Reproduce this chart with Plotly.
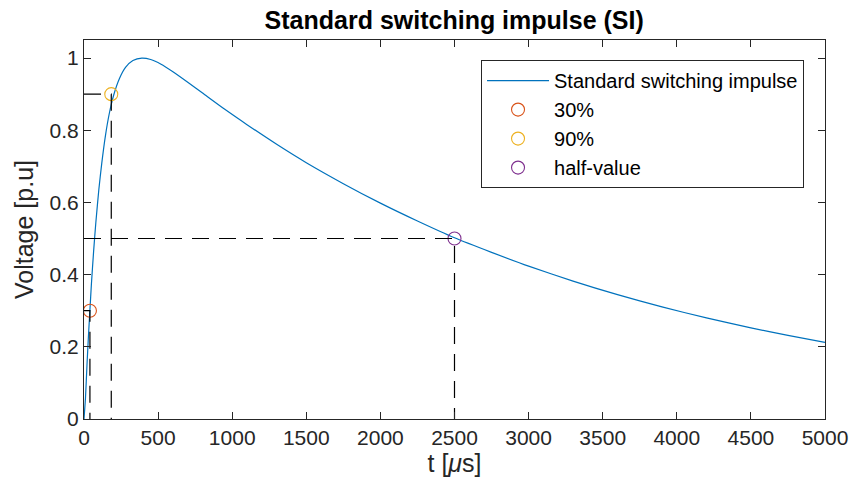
import plotly.graph_objects as go

# Curve samples (t in microseconds, voltage in p.u.)
t_us = [0, 10, 20, 30, 40, 50, 65, 80, 100, 120, 145, 170, 200, 240, 280, 330, 390,
        450, 520, 600, 700, 800, 950, 1100, 1300, 1500, 1750, 2000, 2250, 2500, 2750,
        3000, 3300, 3600, 3900, 4200, 4500, 4750, 5000]
v_pu = [0, 0.058, 0.148, 0.230, 0.302, 0.374, 0.465, 0.545, 0.635, 0.709, 0.786, 0.845,
        0.897, 0.944, 0.974, 0.993, 1.0, 0.996, 0.983, 0.962, 0.933, 0.903, 0.858,
        0.8155, 0.761, 0.710, 0.652, 0.598, 0.5485, 0.502, 0.4617, 0.4235, 0.3819,
        0.3444, 0.3106, 0.280, 0.2525, 0.2316, 0.2125]

# Characteristic points
marker_names = ["30%", "90%", "half-value"]
marker_t = [40, 184, 2500]
marker_v = [0.3, 0.9, 0.5]
marker_colors = ["#D95319", "#EDB120", "#7E2F8E"]

x_ticks = [0, 500, 1000, 1500, 2000, 2500, 3000, 3500, 4000, 4500, 5000]
y_ticks = [0, 0.2, 0.4, 0.6, 0.8, 1.0]
y_tick_text = ["0", "0.2", "0.4", "0.6", "0.8", "1"]

FONT = "Liberation Sans, Arial, Helvetica, sans-serif"
AX = "#262626"

fig = go.Figure()
fig.add_trace(go.Scatter(x=t_us, y=v_pu, mode="lines", name="Standard switching impulse",
                         line=dict(color="#0072BD", width=1.2, shape="spline", smoothing=0.6)))
for name, tx, vy, c in zip(marker_names, marker_t, marker_v, marker_colors):
    fig.add_trace(go.Scatter(x=[tx], y=[vy], mode="markers", name=name,
                             marker=dict(symbol="circle-open", size=13, color=c,
                                         line=dict(width=1.1, color=c))))
# Dashed guide lines from each point to the axes
for tx, vy in zip(marker_t, marker_v):
    fig.add_trace(go.Scatter(x=[0, tx, tx], y=[vy, vy, 0], mode="lines", showlegend=False,
                             hoverinfo="skip",
                             line=dict(color="black", width=1.2, dash="17px,10px")))

axis_common = dict(showline=True, linecolor=AX, linewidth=1, mirror="ticks",
                   ticks="inside", ticklen=7, tickcolor=AX, showgrid=False, zeroline=False,
                   automargin=False,
                   tickfont=dict(family=FONT, size=21, color=AX))
fig.update_xaxes(range=[0, 5000], tickvals=x_ticks, ticktext=[str(v) for v in x_ticks],
                 title=dict(text="t [<i>μ</i>s]", font=dict(family=FONT, size=25, color=AX),
                            standoff=6), **axis_common)
fig.update_yaxes(range=[0, 1.05], tickvals=y_ticks, ticktext=y_tick_text,
                 title=dict(text="Voltage [p.u]", font=dict(family=FONT, size=25, color=AX),
                            standoff=8), **axis_common)

fig.update_layout(
    width=849, height=493,
    margin=dict(l=84, r=24, t=40, b=74),
    paper_bgcolor="white", plot_bgcolor="white",
    title=dict(text="<b>Standard switching impulse (SI)</b>", x=0.535, xanchor="center",
               y=0.959, yanchor="middle",
               font=dict(family=FONT, size=25, color="black")),
    legend=dict(x=0.9717, y=0.947, xanchor="right", yanchor="top",
                bgcolor="white", bordercolor=AX, borderwidth=1,
                font=dict(family=FONT, size=20, color="black"), itemwidth=62),
    showlegend=True,
)

fig.write_html("out.html")
